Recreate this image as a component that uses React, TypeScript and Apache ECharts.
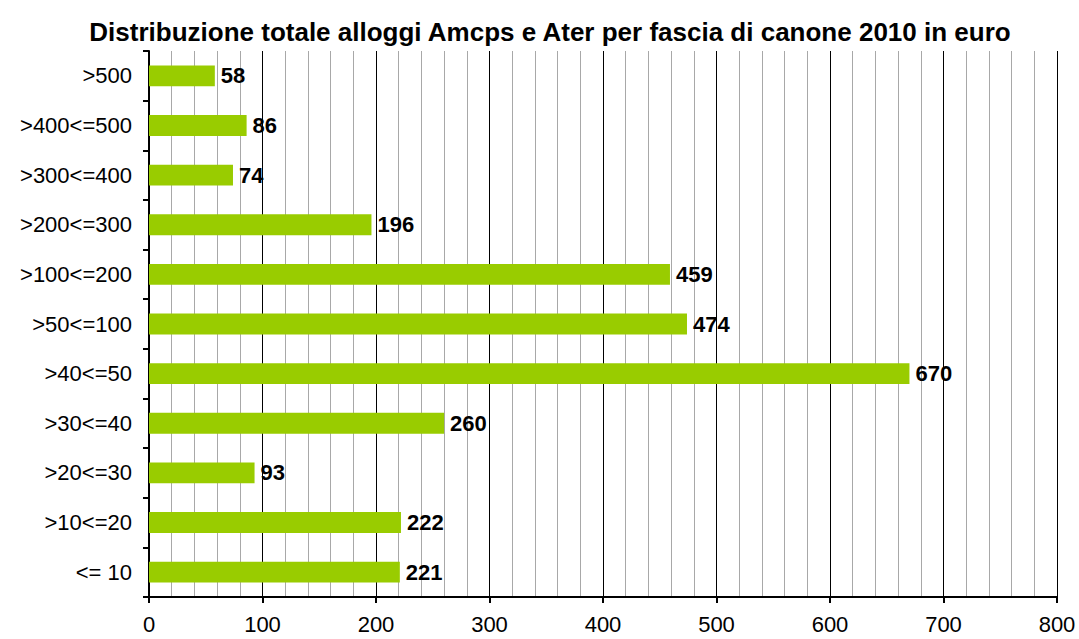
import React, { useEffect, useRef } from "react";
import * as echarts from "echarts";

const titleText = "Distribuzione totale alloggi Amcps e Ater per fascia di canone 2010 in euro";
const categories = ["<= 10", ">10<=20", ">20<=30", ">30<=40", ">40<=50", ">50<=100", ">100<=200", ">200<=300", ">300<=400", ">400<=500", ">500"];
const values = [221, 222, 93, 260, 670, 474, 459, 196, 74, 86, 58];
const axisMin = 0;
const axisMax = 800;
const axisInterval = 100;

const FONT = "Liberation Sans, Arial, sans-serif";

export default function App() {
  const ref = useRef<HTMLDivElement>(null);
  useEffect(() => {
    if (!ref.current) return;
    const chart = echarts.init(ref.current, undefined, { renderer: "svg" });
    chart.setOption({
      animation: false,
      backgroundColor: "#fff",
      title: {
        text: titleText,
        left: 545,
        textAlign: "center",
        top: 14,
        textStyle: { fontFamily: FONT, fontSize: 26, fontWeight: "bold", color: "#000" },
      },
      grid: { left: 149, right: 22, top: 51, bottom: 42 },
      xAxis: {
        type: "value",
        min: axisMin,
        max: axisMax,
        interval: axisInterval,
        axisLine: { show: true, lineStyle: { color: "#000", width: 2 } },
        axisTick: { show: true, length: 6, lineStyle: { color: "#000", width: 2 } },
        axisLabel: { fontFamily: FONT, fontSize: 22, color: "#000", margin: 16 },
        splitLine: { show: true, lineStyle: { color: "#000", width: 1 } },
        minorTick: { show: false, splitNumber: 5 },
        minorSplitLine: { show: true, lineStyle: { color: "#a8a8a8", width: 1 } },
      },
      yAxis: {
        type: "category",
        data: categories,
        axisLine: { show: true, lineStyle: { color: "#000", width: 2 } },
        axisTick: { show: true, length: 6, lineStyle: { color: "#000", width: 2 } },
        axisLabel: { fontFamily: FONT, fontSize: 22, color: "#000", margin: 17 },
        splitLine: { show: false },
      },
      series: [
        {
          type: "bar",
          data: values,
          barCategoryGap: "58%",
          itemStyle: { color: "#99CC00" },
          label: {
            show: true,
            position: "right",
            distance: 6,
            fontFamily: FONT,
            fontSize: 22,
            fontWeight: "bold",
            color: "#000",
          },
        },
      ],
    });
    return () => chart.dispose();
  }, []);
  return <div ref={ref} style={{ width: 1079, height: 639, position: "absolute", left: 0, top: 0 }} />;
}
